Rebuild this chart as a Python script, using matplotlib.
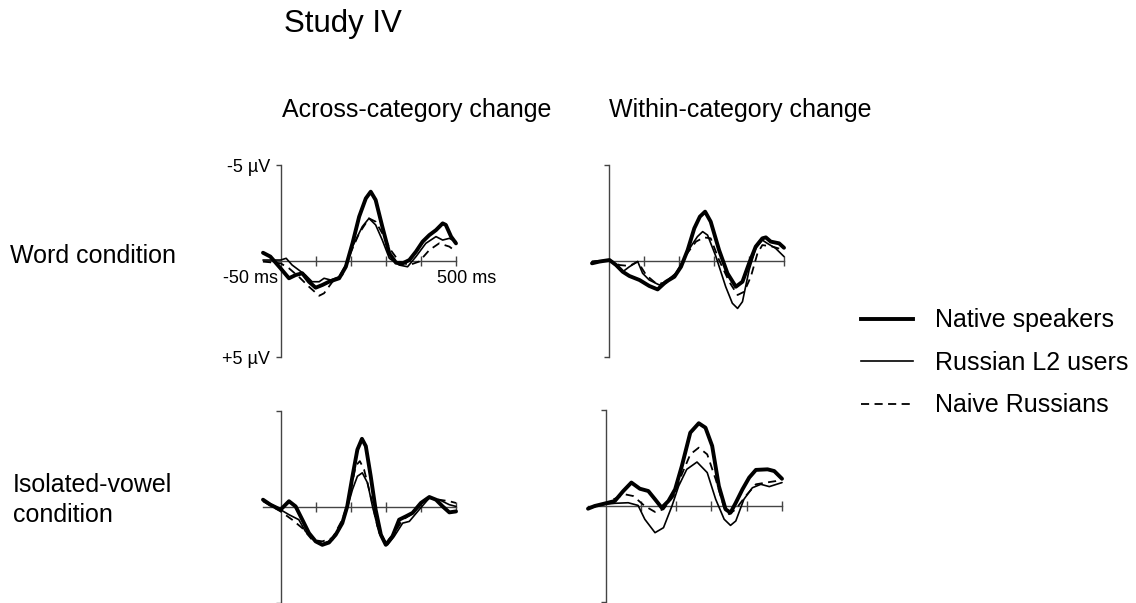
import numpy as np
import matplotlib
matplotlib.use("Agg")
import matplotlib.pyplot as plt
from matplotlib.lines import Line2D

plt.rcParams['font.family'] = ['Liberation Sans', 'DejaVu Sans']

# ERP traces: (time in ms, amplitude in microvolts), negative up
word_across_native = [(-50, -0.43), (-29, -0.23), (0, 0.38), (24, 0.90), (43, 0.73), (62, 0.64), (81, 1.08),
                      (100, 1.39), (119, 1.25), (138, 1.08), (167, 0.90), (186, 0.30), (205, -0.92), (224, -2.31),
                      (243, -3.26), (257, -3.61), (271, -3.18), (290, -1.79), (310, -0.40), (329, 0.09), (348, 0.12),
                      (367, -0.05), (386, -0.49), (405, -1.01), (424, -1.35), (443, -1.61), (462, -1.96),
                      (471, -1.88), (486, -1.27), (500, -0.92)]
word_across_l2 = [(-50, -0.05), (-24, -0.05), (0, -0.05), (16, -0.14), (33, 0.21), (52, 0.47), (71, 0.73),
                  (90, 1.08), (110, 1.08), (124, 0.90), (143, 0.99), (167, 0.82), (186, 0.21), (205, -0.75),
                  (233, -1.79), (252, -2.22), (271, -1.88), (290, -1.09), (310, -0.14), (338, 0.21), (362, 0.30),
                  (386, -0.23), (414, -0.92), (443, -1.27), (462, -1.09), (481, -1.18), (500, -1.01)]
word_across_naive = [(-50, 0.03), (0, 0.12), (24, 0.38), (52, 0.82), (81, 1.34), (110, 1.81), (124, 1.68),
                     (148, 1.08), (176, 0.73), (195, -0.23), (224, -1.44), (252, -2.22), (271, -2.05),
                     (290, -1.44), (314, -0.57), (338, 0.03), (367, 0.21), (395, 0.03), (424, -0.57),
                     (452, -0.92), (481, -0.75), (500, -0.49)]

word_within_native = [(-50, 0.12), (-29, 0.03), (0, -0.05), (19, 0.21), (38, 0.56), (57, 0.78), (86, 0.99),
                      (114, 1.30), (138, 1.48), (162, 1.08), (186, 0.82), (205, 0.30), (224, -0.57), (243, -1.70),
                      (259, -2.31), (274, -2.57), (290, -2.05), (314, -0.57), (338, 0.64), (362, 1.34),
                      (381, 1.08), (400, 0.12), (419, -0.75), (438, -1.18), (448, -1.23), (462, -1.01),
                      (486, -0.92), (500, -0.69)]
word_within_l2 = [(-50, 0.03), (0, -0.05), (19, 0.26), (38, 0.56), (57, 0.30), (81, 0.03), (95, 0.64),
                  (114, 0.99), (143, 1.25), (167, 0.99), (190, 0.64), (210, 0.03), (233, -0.75), (252, -1.27),
                  (267, -1.53), (281, -1.35), (305, -0.23), (333, 1.34), (352, 2.20), (367, 2.47), (381, 2.12),
                  (400, 0.47), (419, -0.66), (438, -1.09), (452, -0.92), (476, -0.66), (500, -0.23)]
word_within_naive = [(-50, 0.03), (0, -0.05), (29, 0.21), (57, 0.26), (81, 0.03), (105, 0.73), (133, 1.16),
                     (162, 1.16), (190, 0.73), (219, -0.31), (248, -1.01), (271, -1.23), (290, -1.18),
                     (314, -0.05), (343, 1.08), (367, 1.77), (386, 1.60), (405, 0.82), (424, -0.40),
                     (438, -0.83), (467, -0.75), (500, -0.57)]

vowel_across_native = [(-50, -0.38), (-29, -0.12), (0, 0.14), (24, -0.30), (43, -0.03), (62, 0.66), (81, 1.36),
                       (100, 1.79), (119, 1.97), (138, 1.85), (157, 1.45), (176, 0.84), (190, -0.03),
                       (205, -1.60), (219, -2.99), (232, -3.55), (243, -3.17), (257, -1.60), (271, 0.14),
                       (286, 1.45), (300, 1.97), (319, 1.53), (338, 0.66), (357, 0.49), (376, 0.31),
                       (400, -0.21), (424, -0.52), (443, -0.38), (462, -0.03), (481, 0.28), (500, 0.23)]
vowel_across_l2 = [(-50, -0.38), (0, 0.14), (24, 0.40), (52, 0.66), (71, 1.27), (100, 1.79), (119, 1.92),
                   (148, 1.71), (167, 1.18), (186, 0.31), (205, -0.91), (219, -1.60), (233, -1.78),
                   (248, -1.25), (262, -0.03), (281, 1.36), (305, 1.97), (324, 1.53), (348, 0.84), (367, 0.75),
                   (395, 0.14), (424, -0.47), (452, -0.38), (481, -0.12), (500, -0.03)]
vowel_across_naive = [(-50, -0.30), (0, 0.23), (33, 0.66), (62, 1.10), (90, 1.71), (119, 1.79), (148, 1.62),
                      (176, 0.66), (195, -0.38), (214, -2.14), (226, -2.39), (238, -1.95), (257, -0.56),
                      (276, 1.01), (300, 1.88), (324, 1.36), (348, 0.66), (371, 0.40), (400, -0.12),
                      (424, -0.47), (452, -0.38), (481, -0.30), (500, -0.21)]

vowel_within_native = [(-50, 0.14), (-31, 0.0), (0, -0.14), (26, -0.26), (50, -0.78), (73, -1.22), (97, -0.90),
                       (121, -0.78), (140, -0.35), (159, 0.09), (178, -0.26), (197, -0.87), (216, -2.08),
                       (240, -3.82), (264, -4.31), (283, -4.08), (302, -3.13), (321, -1.04), (340, 0.17),
                       (354, 0.35), (369, -0.17), (388, -0.87), (407, -1.48), (426, -1.88), (459, -1.91),
                       (478, -1.82), (500, -1.42)]
vowel_within_l2 = [(-50, 0.09), (0, -0.09), (26, -0.14), (64, -0.17), (92, -0.03), (111, 0.69), (140, 1.39),
                   (164, 1.13), (188, 0.0), (207, -1.04), (230, -1.91), (259, -2.29), (288, -1.74),
                   (312, -0.35), (336, 0.69), (354, 1.01), (369, 0.78), (392, -0.35), (416, -0.95),
                   (440, -1.13), (464, -1.01), (500, -1.22)]
vowel_within_naive = [(-50, 0.14), (0, -0.14), (26, -0.38), (54, -0.61), (78, -0.52), (111, 0.0), (140, 0.31),
                      (164, 0.17), (193, -0.52), (216, -1.65), (240, -2.69), (264, -3.04), (288, -2.69),
                      (312, -1.39), (336, 0.09), (350, 0.43), (369, 0.17), (397, -0.52), (426, -1.13),
                      (455, -1.22), (483, -1.30), (500, -1.39)]

group_names = ['Native speakers', 'Russian L2 users', 'Naive Russians']
x_ticks = [100, 200, 300, 400, 500]

W, H = 1136, 603
fig = plt.figure(figsize=(W / 100, H / 100), dpi=100)

styles = [dict(color='black', lw=2.8),
          dict(color='black', lw=1.2),
          dict(color='black', lw=1.3, dashes=(4.5, 3))]

# panel boxes in pixels: left, top, right, bottom
panels = [((263, 165, 456, 357), [word_across_native, word_across_l2, word_across_naive]),
          ((592, 165, 784, 357), [word_within_native, word_within_l2, word_within_naive]),
          ((263, 411, 456, 603), [vowel_across_native, vowel_across_l2, vowel_across_naive]),
          ((588, 410, 782, 602), [vowel_within_native, vowel_within_l2, vowel_within_naive])]

axes = []
for (l, t, r, b), traces in panels:
    ax = fig.add_axes([l / W, 1 - b / H, (r - l) / W, (b - t) / H])
    for tr, st in reversed(list(zip(traces, styles))):
        tr = np.array(tr)
        ax.plot(tr[:, 0], tr[:, 1], solid_joinstyle='round', solid_capstyle='round',
                zorder=3, clip_on=False, **st)
    ax.set_xlim(-50, 500)
    ax.set_ylim(5, -5)
    for s in ['top', 'right']:
        ax.spines[s].set_visible(False)
    ax.spines['left'].set_position(('data', 0))
    ax.spines['bottom'].set_position(('data', 0))
    for s in ['left', 'bottom']:
        ax.spines[s].set_color('#444444')
        ax.spines[s].set_linewidth(1.0)
    ax.set_xticks(x_ticks)
    ax.set_xticklabels([])
    ax.tick_params(axis='x', direction='inout', length=7, width=1.0, color='#444444')
    ax.set_yticks([-5, 5])
    ax.set_yticklabels([])
    ax.tick_params(axis='y', direction='out', length=3.6, width=1.0, color='#444444', pad=4)
    ax.patch.set_visible(False)
    axes.append(ax)

ax0 = axes[0]
ax0.set_yticklabels(['-5 µV', '+5 µV'], fontsize=13)
ax0.text(-7, 0.9, '-50 ms', fontsize=13, ha='right', va='center')
ax0.text(447, 0.9, '500 ms', fontsize=13, ha='left', va='center')


def ftext(x, y, s, size):
    fig.text(x / W, 1 - y / H, s, fontsize=size, ha='left', va='baseline')


ftext(284, 32, 'Study IV', 22.5)
ftext(282, 117, 'Across-category change', 18)
ftext(609, 117, 'Within-category change', 18)
ftext(10, 263, 'Word condition', 18)
ftext(13, 492, 'Isolated-vowel', 18)
ftext(13, 522, 'condition', 18)

handles = [Line2D([], [], **st) for st in styles]
fig.legend(handles, group_names, loc='upper left', bbox_to_anchor=(848 / W, 1 - 296 / H),
           frameon=False, fontsize=18, handlelength=2.1, handletextpad=0.88, labelspacing=0.74,
           borderpad=0)

fig.savefig('out.png', dpi=100)
